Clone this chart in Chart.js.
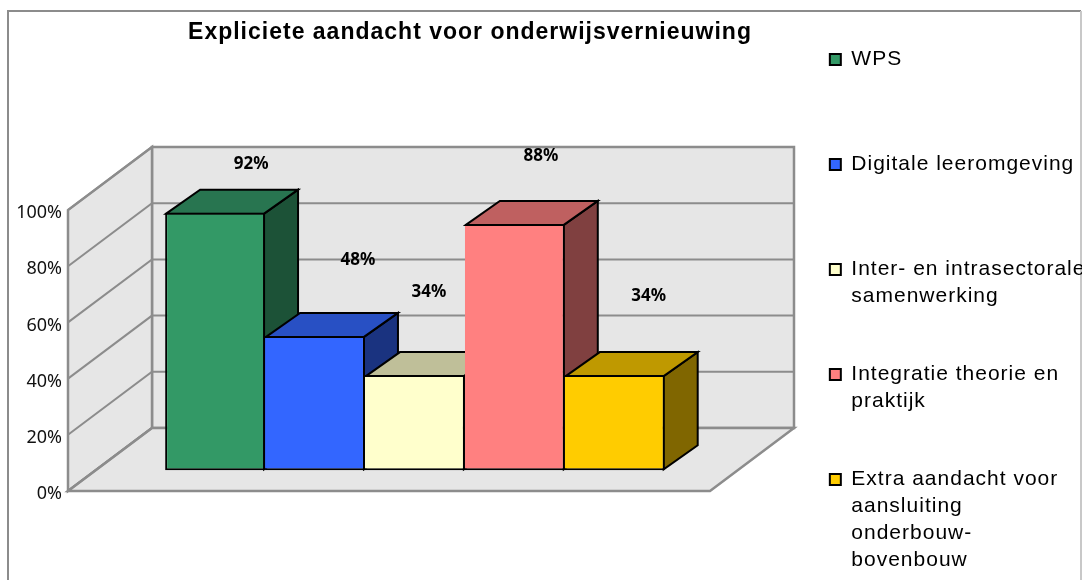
<!DOCTYPE html>
<html>
<head>
<meta charset="utf-8">
<style>
  html, body { margin: 0; padding: 0; background: #fff; overflow: hidden; }
  canvas { display: block; }
</style>
<script src="https://cdn.jsdelivr.net/npm/chart.js@4"></script>
</head>
<body>
<canvas id="chart" width="1082" height="610"></canvas>
<script>
const chartTitle = "Expliciete aandacht voor onderwijsvernieuwing";
const seriesNames = [
  ["WPS"],
  ["Digitale leeromgeving"],
  ["Inter- en intrasectorale", "samenwerking"],
  ["Integratie theorie en", "praktijk"],
  ["Extra aandacht voor", "aansluiting", "onderbouw-", "bovenbouw"],
];
const seriesValues = [92, 48, 34, 88, 34];
const seriesColors = ["#339966", "#3366ff", "#ffffcc", "#ff8080", "#ffcc00"];
const topColors = ["#287550", "#2850c4", "#bfbf99", "#bf6060", "#bf9900"];
const sideColors = ["#1c5237", "#1a3380", "#808066", "#804040", "#806600"];
const yTickStep = 20;

// value labels do not sit on the bars in the original, offset from bar centre / top
const labelOffsets = [[36, -49], [43, -76], [14, -83], [26, -68], [34, -79]];

const gray = "#8c8c8c";
const wallFill = "#e6e6e6";
const wallWidth = 642;
const wallDepth = [84, -63];
const barDepth = [34, -24];
const titleCenter = 470;

function poly(ctx, pts, fill, stroke, lineWidth) {
  ctx.beginPath();
  pts.forEach((p, i) => (i ? ctx.lineTo(p[0], p[1]) : ctx.moveTo(p[0], p[1])));
  ctx.closePath();
  if (fill) {
    ctx.fillStyle = fill;
    ctx.fill();
  }
  if (stroke) {
    ctx.strokeStyle = stroke;
    ctx.lineWidth = lineWidth;
    ctx.stroke();
  }
}

const box3d = {
  id: "box3d",
  afterLayout(chart) {
    chart.titleBlock.left = 0;
    chart.titleBlock.right = titleCenter * 2;
    // legend text runs to the edge of the picture
    chart.legend.right = chart.width;
  },
  beforeDraw(chart) {
    const ctx = chart.ctx;
    ctx.save();
    ctx.strokeStyle = gray;
    ctx.lineWidth = 2;
    ctx.beginPath();
    ctx.moveTo(8, 700);
    ctx.lineTo(8, 11);
    ctx.lineTo(1081, 11);
    ctx.stroke();
    ctx.strokeStyle = "#c8c8c8";
    ctx.beginPath();
    ctx.moveTo(1081, 11);
    ctx.lineTo(1081, 700);
    ctx.stroke();
    ctx.restore();
    ctx.letterSpacing = "1px";
  },
  beforeDatasetsDraw(chart) {
    const ctx = chart.ctx;
    ctx.letterSpacing = "0px";
    const y = chart.scales.y;
    const left = chart.chartArea.left;
    const right = left + wallWidth;
    const [dx, dy] = wallDepth;
    const y0 = y.getPixelForValue(0);
    const y100 = y.getPixelForValue(100);
    ctx.save();
    ctx.lineJoin = "miter";
    poly(ctx, [[left + dx, y100 + dy], [right + dx, y100 + dy], [right + dx, y0 + dy], [left + dx, y0 + dy]], wallFill, gray, 2.5);
    poly(ctx, [[left, y0], [left, y100], [left + dx, y100 + dy], [left + dx, y0 + dy]], wallFill, gray, 2.5);
    poly(ctx, [[left, y0], [right, y0], [right + dx, y0 + dy], [left + dx, y0 + dy]], wallFill, gray, 2.5);
    y.ticks.forEach((t) => {
      const py = y.getPixelForValue(t.value);
      ctx.strokeStyle = gray;
      ctx.lineWidth = 2;
      ctx.beginPath();
      ctx.moveTo(left, py);
      ctx.lineTo(left + dx, py + dy);
      ctx.lineTo(right + dx, py + dy);
      ctx.stroke();
    });
    // depth faces, left to right; the front faces come on top from Chart.js
    const [bx, by] = barDepth;
    chart.data.datasets.forEach((ds, i) => {
      const bar = chart.getDatasetMeta(i).data[0];
      // Chart.js keeps the border inside the bar, so follow the border's centre
      const l = bar.x - bar.width / 2 + 1;
      const r = bar.x + bar.width / 2 - 1;
      const top = bar.y + 1;
      const base = bar.base - 1;
      poly(ctx, [[r, top], [r + bx, top + by], [r + bx, base + by], [r, base]], sideColors[i], "#000", 2);
      poly(ctx, [[l, top], [l + bx, top + by], [r + bx, top + by], [r, top]], topColors[i], "#000", 2);
    });
    ctx.restore();
  },
  afterDatasetsDraw(chart) {
    const ctx = chart.ctx;
    ctx.save();
    ctx.font = "bold 17px 'Noto Sans'";
    ctx.fillStyle = "#000";
    ctx.textAlign = "center";
    ctx.textBaseline = "middle";
    chart.data.datasets.forEach((ds, i) => {
      const bar = chart.getDatasetMeta(i).data[0];
      ctx.fillText(ds.data[0] + "%", bar.x + labelOffsets[i][0], bar.y + labelOffsets[i][1]);
    });
    ctx.restore();
  },
};

const datasets = seriesNames.map((name, i) => ({
  label: name,
  data: [seriesValues[i]],
  backgroundColor: seriesColors[i],
  borderColor: "#000",
  borderWidth: 2,
  borderSkipped: i === 0 ? false : "left",
  yAxisID: "yBars",
}));

new Chart(document.querySelector("#chart"), {
  type: "bar",
  data: { labels: [""], datasets },
  plugins: [box3d],
  options: {
    responsive: false,
    animation: false,
    events: [],
    categoryPercentage: 0.72,
    barPercentage: 1,
    layout: { padding: { top: 25, right: 115 } },
    plugins: {
      tooltip: { enabled: false },
      title: {
        display: true,
        text: chartTitle,
        color: "#000",
        font: { family: "'Liberation Sans'", size: 23, weight: "bold", lineHeight: "24px" },
        padding: { top: -4, bottom: 165 },
      },
      legend: {
        position: "right",
        align: "start",
        labels: {
          color: "#000",
          boxWidth: 11,
          boxHeight: 11,
          padding: 24,
          font: { family: "'Liberation Sans'", size: 21, lineHeight: "27px" },
          generateLabels(chart) {
            const items = Chart.defaults.plugins.legend.labels.generateLabels(chart);
            // one-line names take the same room as two-line names
            return items.map((item) => {
              const lines = item.text.slice();
              while (lines.length < 3) lines.push("");
              return { ...item, text: lines };
            });
          },
        },
      },
    },
    scales: {
      x: {
        grid: { display: false },
        border: { display: false },
        ticks: { display: false },
        afterFit(scale) {
          scale.height = 119;
        },
      },
      y: {
        position: "left",
        min: 0,
        max: 100,
        grid: { display: false, drawTicks: false },
        border: { display: false },
        ticks: {
          stepSize: yTickStep,
          padding: 6,
          z: 1,
          labelOffset: 3,
          color: "#111",
          font: { family: "'Noto Sans'", size: 18 },
          callback: (v) => v + "%",
        },
        afterFit(scale) {
          scale.width = 68;
        },
      },
      // the bars stand further forward on the floor than the left wall
      yBars: {
        position: "right",
        min: -7.39,
        max: 92.96,
        grid: { display: false },
        border: { display: false },
        ticks: { display: false },
        afterFit(scale) {
          scale.width = 44;
        },
      },
    },
  },
});
</script>
</body>
</html>
